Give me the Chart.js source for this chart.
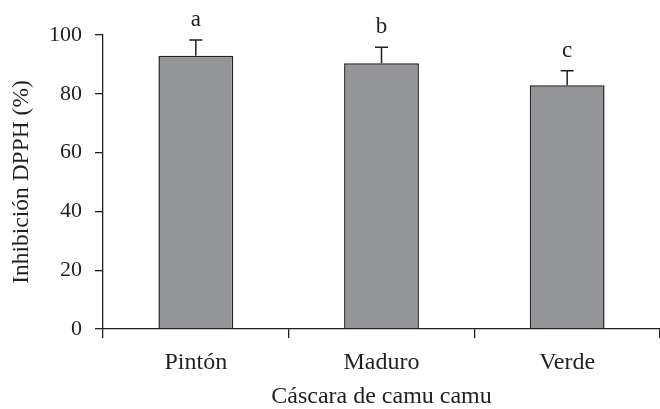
<!DOCTYPE html>
<html>
<head>
<meta charset="utf-8">
<script src="https://cdn.jsdelivr.net/npm/chart.js@4/dist/chart.umd.min.js"></script>
<style>
  html, body { margin: 0; padding: 0; background: #ffffff; }
  #wrap { width: 660px; height: 409px; position: relative; }
</style>
</head>
<body>
<div id="wrap"><canvas id="chart"></canvas></div>
<script>
// Categories and measured values
const categories = ['Pintón', 'Maduro', 'Verde'];
const meanValues = [92.9, 90.4, 82.9];
const sdValues = [5.4, 5.4, 4.9];
const groupLetters = ['a', 'b', 'c'];
const yTicks = [0, 20, 40, 60, 80, 100];

const INK = '#231f20';
const FONT = "'Liberation Serif', 'Times New Roman', serif";

// Draws the upper error whisker and the significance letter for each bar
const errorBarPlugin = {
  id: 'errorBars',
  afterDatasetsDraw(chart) {
    const ctx = chart.ctx;
    const meta = chart.getDatasetMeta(0);
    const y = chart.scales.y;
    ctx.save();
    ctx.strokeStyle = INK;
    ctx.lineWidth = 1.5;
    meta.data.forEach((bar, i) => {
      const x = bar.x;
      const yMean = y.getPixelForValue(meanValues[i]);
      const yTop = y.getPixelForValue(meanValues[i] + sdValues[i]);
      ctx.beginPath();
      ctx.moveTo(x, yMean);
      ctx.lineTo(x, yTop);
      ctx.moveTo(x - 6.5, yTop);
      ctx.lineTo(x + 6.5, yTop);
      ctx.stroke();
      ctx.fillStyle = INK;
      ctx.font = '23px ' + FONT;
      ctx.textAlign = 'center';
      ctx.textBaseline = 'alphabetic';
      ctx.fillText(groupLetters[i], x, yTop - 14);
    });
    ctx.restore();
  }
};

new Chart(document.getElementById('chart'), {
  type: 'bar',
  data: {
    labels: categories,
    datasets: [{
      data: meanValues,
      backgroundColor: '#939598',
      borderColor: INK,
      borderWidth: 1.5,
      barPercentage: 0.403,
      categoryPercentage: 1.0
    }]
  },
  options: {
    responsive: true,
    maintainAspectRatio: false,
    animation: false,
    layout: { padding: { top: 35, right: -3, bottom: 0, left: 0 } },
    plugins: {
      legend: { display: false },
      tooltip: { enabled: false }
    },
    scales: {
      x: {
        type: 'category',
        offset: true,
        grid: {
          offset: true,
          drawOnChartArea: false,
          drawTicks: true,
          tickLength: 9,
          color: INK,
          lineWidth: 1.3
        },
        border: { display: true, color: INK, width: 1.3 },
        ticks: {
          color: INK,
          padding: 10,
          font: { family: FONT, size: 24 }
        },
        title: {
          display: true,
          text: 'Cáscara de camu camu',
          color: INK,
          font: { family: FONT, size: 24, lineHeight: 1 },
          padding: { top: 0, bottom: 0 }
        },
        afterFit(scale) { scale.height = 80; }
      },
      y: {
        min: 0,
        max: 100,
        afterBuildTicks(scale) { scale.ticks = yTicks.map(v => ({ value: v })); },
        grid: {
          drawOnChartArea: false,
          drawTicks: true,
          tickLength: 8,
          color: INK,
          lineWidth: 1.3
        },
        border: { display: true, color: INK, width: 1.3 },
        ticks: {
          color: INK,
          padding: 13,
          font: { family: FONT, size: 22 }
        },
        title: {
          display: true,
          text: 'Inhibición DPPH (%)',
          color: INK,
          font: { family: FONT, size: 23.5, lineHeight: 1 },
          padding: { top: 10, bottom: 0 }
        },
        afterFit(scale) { scale.width = 103; }
      }
    }
  },
  plugins: [errorBarPlugin]
});
</script>
</body>
</html>
